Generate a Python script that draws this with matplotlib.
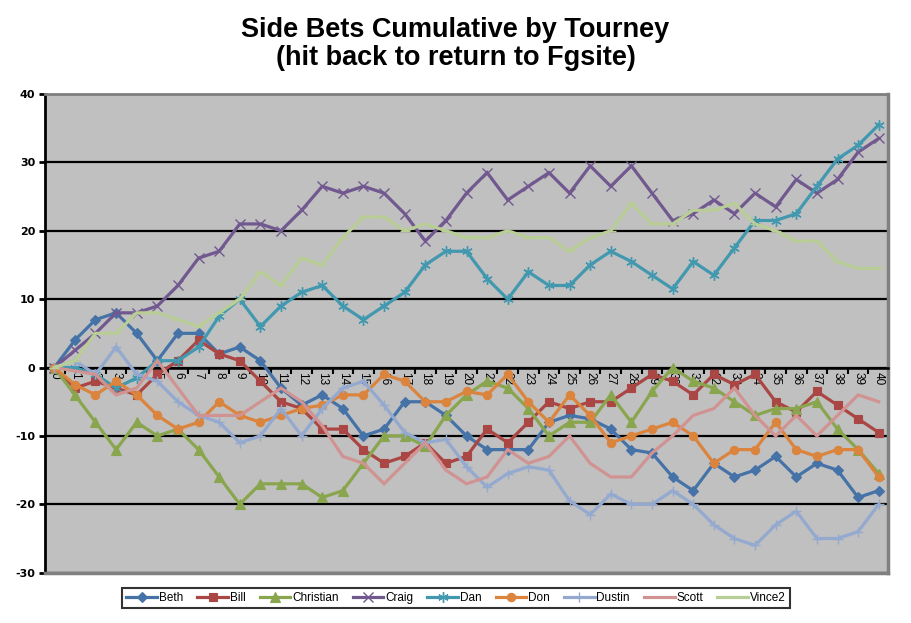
import matplotlib
matplotlib.use("Agg")
import matplotlib.pyplot as plt
from matplotlib.lines import Line2D

plt.rcParams["axes.unicode_minus"] = False

tourneys = list(range(41))
tick_labels = [str(t) for t in tourneys]

beth = [0, 4, 7, 8, 5, 1, 5, 5, 2, 3, 1, -3, -5.5, -4, -6, -10, -9, -5, -5, -7, -10, -12, -12, -12, -8, -7, -7.5, -9, -12, -12.5, -16, -18, -14, -16, -15, -13, -16, -14, -15, -19, -18]
bill = [0, -3, -2, -3, -4, -1, 1, 4, 2, 1, -2, -5, -6, -9, -9, -12, -14, -13, -11, -14, -13, -9, -11, -8, -5, -6, -5, -5, -3, -1, -2, -4, -1, -2.5, -1, -5, -6.5, -3.5, -5.5, -7.5, -9.5]
christian = [0, -4, -8, -12, -8, -10, -9, -12, -16, -20, -17, -17, -17, -19, -18, -14, -10, -10, -11.5, -7, -4, -2, -3, -6, -10, -8, -8, -4, -8, -3.5, 0, -2, -3, -5, -7, -6, -6, -5, -9, -12, -15.5]
craig = [0, 2.5, 5, 8, 8, 9, 12, 16, 17, 21, 21, 20, 23, 26.5, 25.5, 26.5, 25.5, 22.5, 18.5, 21.5, 25.5, 28.5, 24.5, 26.5, 28.5, 25.5, 29.5, 26.5, 29.5, 25.5, 21.5, 22.5, 24.5, 22.5, 25.5, 23.5, 27.5, 25.5, 27.5, 31.5, 33.5]
dan = [0, 0, -1, -3, -1.5, 1, 1, 3, 7.5, 10, 6, 9, 11, 12, 9, 7, 9, 11, 15, 17, 17, 13, 10, 14, 12, 12, 15, 17, 15.5, 13.5, 11.5, 15.5, 13.5, 17.5, 21.5, 21.5, 22.5, 26.5, 30.5, 32.5, 35.5]
don = [0, -2.5, -4, -2, -4, -7, -9, -8, -5, -7, -8, -7, -6, -5.5, -4, -4, -1, -2, -5, -5, -3.5, -4, -1, -5, -8, -4, -7, -11, -10, -9, -8, -10, -14, -12, -12, -8, -12, -13, -12, -12, -16]
dustin = [0, 1, -1, 3, -1, -2, -5, -7, -8, -11, -10, -6, -10, -6, -3, -2, -5.5, -9.5, -11, -10.5, -14.5, -17.5, -15.5, -14.5, -15, -19.5, -21.5, -18.5, -20, -20, -18, -20, -23, -25, -26, -23, -21, -25, -25, -24, -20]
scott = [0, -0.5, -1, -4, -3, 1, -3, -7, -7, -7, -5, -3, -5, -8.5, -13, -14, -17, -14, -11, -15, -17, -16, -12, -14, -13, -10, -14, -16, -16, -12.5, -10, -7, -6, -3, -7, -10, -7, -10, -7, -4, -5]
vince2 = [0, 1, 5, 5, 8, 8, 7, 6, 8, 10, 14, 12, 16, 15, 19, 22, 22, 20, 21, 20, 19, 19, 20, 19, 19, 17, 19, 20, 24, 21, 21, 23, 23, 24, 21, 20, 18.5, 18.5, 15.5, 14.5, 14.5]

names = ["Beth", "Bill", "Christian", "Craig", "Dan", "Don", "Dustin", "Scott", "Vince2"]
series = [beth, bill, christian, craig, dan, don, dustin, scott, vince2]
colors = ["#4572A7", "#AA4643", "#89A54E", "#71588F", "#4198AF", "#DB843D", "#93A9CF", "#D19392", "#B9CD96"]
markers = ["D", "s", "^", "x", (6, 2, 0), "o", "+", None, "_"]
msizes = [5.5, 6, 6.5, 6.5, 7.5, 6, 7.5, 0, 6.5]

fig = plt.figure(figsize=(9.11, 6.23), dpi=100)
fig.patch.set_facecolor("white")
ax = fig.add_axes([45/911, 1-572.7/623, (888-45)/911, (572.7-94)/623])
ax.set_facecolor("#C0C0C0")

for name, ys, c, m, ms in zip(names, series, colors, markers, msizes):
    ax.plot(tourneys, ys, color=c, lw=2.3, marker=m, markersize=ms,
            markeredgewidth=1.0 if m in ("x", "+", "_", (6, 2, 0)) else 0.8,
            markeredgecolor=c, markerfacecolor=c, label=name, zorder=3,
            solid_joinstyle="miter")

ax.set_xlim(-0.45, 40.45)
ax.set_ylim(-30, 40)
ax.set_yticks(range(-30, 41, 10))
ax.yaxis.grid(True, color="black", lw=1.6, zorder=1)
ax.set_axisbelow(True)

ax.tick_params(axis="y", direction="out", length=4, width=2, color="black",
               labelsize=8, pad=3)
for lab in ax.get_yticklabels():
    lab.set_fontfamily("DejaVu Sans")
    lab.set_fontweight("bold")

ax.spines["bottom"].set_position(("data", 0))
ax.spines["bottom"].set_color("black")
ax.spines["bottom"].set_linewidth(1.8)
ax.spines["left"].set_color("black")
ax.spines["left"].set_linewidth(2)
ax.spines["top"].set_color("#808080")
ax.spines["top"].set_linewidth(2)
ax.spines["right"].set_color("#808080")
ax.spines["right"].set_linewidth(2.5)
ax.add_line(Line2D([0, 1], [0, 0], transform=ax.transAxes, color="#808080",
                   lw=2.5, clip_on=False, zorder=5))

ax.set_xticks(tourneys)
ax.set_xticklabels(tick_labels, fontfamily="Liberation Sans", fontsize=8.5)
ax.set_xticks([t + 0.5 for t in tourneys[:-1]], minor=True)
ax.tick_params(axis="x", which="major", length=0, pad=3, labelrotation=-90)
ax.tick_params(axis="x", which="minor", direction="out", length=4, width=1.5, color="black")

fig.text(0.5, 1 - 44/623, "Side Bets Cumulative by Tourney\n(hit back to return to Fgsite)",
         ha="center", va="center", fontsize=19.5, fontweight="bold",
         fontfamily="Liberation Sans", linespacing=1.12)

leg = fig.legend(loc="center", bbox_to_anchor=(456/911, 1 - 598/623), ncol=9,
                 frameon=True, fancybox=False, edgecolor="black",
                 prop={"family": "Liberation Sans", "size": 8.5},
                 handlelength=2.6, handletextpad=0.15, columnspacing=1.2,
                 borderpad=0.35, borderaxespad=0)
leg.get_frame().set_linewidth(1.5)

fig.savefig("out.png", dpi=100, facecolor="white")
